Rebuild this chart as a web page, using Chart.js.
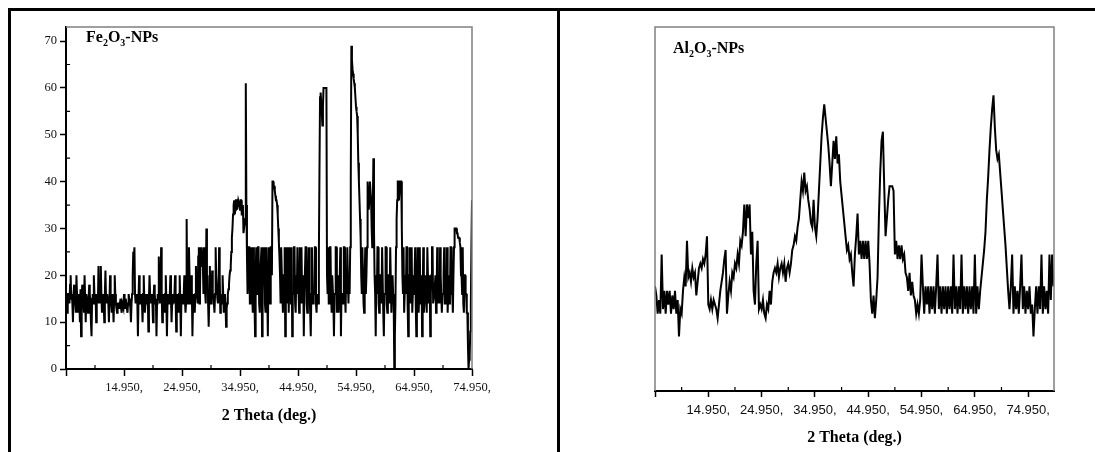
<!DOCTYPE html>
<html>
<head>
<meta charset="utf-8">
<script src="https://cdn.jsdelivr.net/npm/chart.js@4.4.1/dist/chart.umd.min.js"></script>
<style>
  html, body { margin: 0; padding: 0; background: #fff; }
  body { width: 1095px; height: 452px; position: relative; overflow: hidden; }
  .painel { position: absolute; top: 0; height: 452px; }
  #painelFe { left: 0; width: 557px; }
  #painelAl { left: 557px; width: 538px; }
  .linha { position: absolute; background: #000; }
</style>
</head>
<body>
<div class="painel" id="painelFe"><canvas id="graficoFe"></canvas></div>
<div class="painel" id="painelAl"><canvas id="graficoAl"></canvas></div>
<!-- bordas da tabela -->
<div class="linha" style="left:8px; top:8px; width:1087px; height:3px"></div>
<div class="linha" style="left:8px; top:8px; width:3px; height:444px"></div>
<div class="linha" style="left:557px; top:8px; width:3px; height:444px"></div>

<script>
// Difratogramas de raios X - passo fixo em 2θ
const inicioFe = 4.95;
const passoFe = 0.1;
const intensidadeFe = [
  16,14,12,16,16,15,14,18,20,15,16,14,10,16,18,15,14,12,20,16,12,15,16,14,10,17,7,15,18,16,14,12,20,15,10,16,16,14,12,15,18,16,14,10,7,15,16,14,20,16,
  14,16,10,15,16,14,22,16,14,15,22,16,12,15,16,14,10,16,21,15,14,16,16,14,10,15,20,16,14,12,16,14,10,15,20,16,14,13,12,14,14,13,13,14,15,13,12,14,14,13,
  16,14,13,15,14,13,12,14,16,15,14,13,10,14,16,20,25,24,26,16,14,15,16,14,7,15,20,16,14,15,16,14,10,16,20,15,12,14,16,15,14,16,8,15,20,16,14,15,16,14,
  10,15,18,16,14,15,7,14,16,15,24,16,14,15,26,16,10,14,16,15,12,16,20,15,7,14,16,15,14,16,20,15,10,14,16,15,14,16,20,15,8,14,16,15,12,16,20,15,7,15,
  16,14,14,16,20,15,12,14,32,16,16,14,26,20,14,15,20,16,7,14,16,15,12,16,22,15,16,14,24,26,14,16,26,22,26,24,22,16,26,20,16,14,30,18,20,14,9,15,22,16,
  14,16,21,15,16,14,12,16,26,20,20,15,14,16,26,20,12,15,16,14,20,16,12,15,16,14,9,13,14,16,17,18,20,21,22,25,28,30,33,35,36,33,34,36,36,34,34,36,36,35,
  34,36,36,33,33,35,29,30,30,32,61,35,24,16,20,26,26,14,14,20,26,16,12,26,20,14,7,20,26,16,16,26,26,14,12,20,20,26,7,16,26,20,26,14,12,26,20,16,7,20,
  26,16,14,26,26,20,40,40,39,39,38,37,36,36,35,33,30,27,24,20,14,26,26,16,12,20,20,26,7,16,26,14,16,26,12,20,26,16,14,26,7,16,16,26,26,14,12,20,16,26,
  20,16,12,26,16,14,26,16,14,20,7,16,16,26,26,14,12,16,20,26,16,12,7,16,26,20,14,16,16,26,26,14,12,16,16,14,25,42,58,59,57,55,52,56,60,60,60,60,60,60,
  20,16,26,14,14,26,26,16,12,20,20,14,7,16,16,26,26,12,14,20,12,16,20,26,7,16,16,14,14,26,26,16,12,20,16,26,26,14,20,16,26,40,69,66,64,63,62,61,60,58,
  56,55,54,50,44,40,36,32,28,20,16,26,26,14,12,20,26,16,20,26,40,38,34,36,40,38,36,30,26,35,45,30,20,16,7,20,16,26,26,14,12,20,20,16,14,26,26,12,7,16,
  16,26,26,14,12,20,20,16,14,26,26,12,12,20,16,14,0,7,14,26,32,36,40,40,36,38,40,40,40,30,20,16,26,12,12,20,16,26,26,14,7,16,20,26,14,16,26,12,12,20,
  16,20,26,14,7,16,20,26,12,16,26,14,16,20,7,16,26,12,14,20,20,16,12,26,26,14,16,20,7,16,20,26,26,14,14,16,16,20,12,16,26,14,16,20,14,26,20,16,12,16,
  16,20,26,14,14,16,16,26,12,16,20,14,16,26,26,16,16,12,20,26,30,30,30,30,29,29,28,28,28,27,26,20,20,16,26,14,12,20,20,16,16,12,12,5,0,2,3,8,14,26,
  36
];

const inicioAl = 4.95;
const passoAl = 0.25;
const intensidadeAl = [
  23,21,17,20,17,30,18,22,17,22,19,22,17,21,18,22,17,20,12,18,
  17,22,25,23,33,25,26,24,27,25,26,21,24,27,28,27,29,28,30,34,
  19,18,20,18,20,19,18,16,19,22,24,26,29,31,17,21,24,22,26,25,
  28,27,30,28,33,32,35,41,34,41,38,41,30,35,22,19,28,33,18,19,
  18,20,17,16,19,18,22,19,24,26,27,26,28,25,27,28,26,28,24,27,
  28,26,28,31,32,34,33,36,38,42,46,44,48,44,45,42,40,37,36,42,
  36,34,38,44,50,56,60,63,60,57,54,50,45,50,55,51,56,50,52,46,
  43,40,37,34,31,32,29,30,26,23,30,34,39,30,33,29,33,29,33,29,
  33,28,20,17,21,16,20,25,38,48,55,57,45,34,38,42,45,45,45,44,
  30,33,29,32,29,32,29,30,26,25,22,26,21,24,21,20,17,19,17,20,
  30,23,17,23,19,23,17,23,18,23,17,23,30,18,23,17,23,18,23,17,
  23,18,23,17,30,18,23,17,23,18,30,17,23,18,23,17,23,18,23,17,
  30,17,23,18,22,25,28,31,35,42,47,53,58,62,65,58,53,51,52,48,
  44,40,36,32,27,22,18,23,30,17,23,18,22,17,23,30,18,23,17,22,
  18,23,17,19,12,18,23,17,23,18,30,17,23,18,22,17,30,20,30,23
];

const ticksX = [4.95, 14.95, 24.95, 34.95, 44.95, 54.95, 64.95, 74.95];
const ticksMenoresX = [9.95, 19.95, 29.95, 39.95, 49.95, 59.95, 69.95];
const ticksYFe = [0, 10, 20, 30, 40, 50, 60, 70];
const ticksMenoresYFe = [5, 15, 25, 35, 45, 55, 65];
const rotuloFe = [['Fe', false], ['2', true], ['O', false], ['3', true], ['-NPs', false]];
const rotuloAl = [['Al', false], ['2', true], ['O', false], ['3', true], ['-NPs', false]];

Chart.defaults.font.family = '"Liberation Serif", "Times New Roman", serif';

function pontos(inicio, passo, valores) {
  return valores.map((y, i) => ({ x: inicio + i * passo, y: y }));
}

// Caixa cinza (topo e direita), ticks menores para dentro e rótulo da amostra
function criarMoldura(cfg) {
  return {
    id: 'moldura',
    afterDraw(chart) {
      const ctx = chart.ctx;
      const { left, right, top, bottom } = chart.chartArea;
      const sx = chart.scales.x, sy = chart.scales.y;
      ctx.save();
      ctx.strokeStyle = '#808080';
      ctx.lineWidth = 1.5;
      ctx.beginPath();
      if (cfg.esquerdaCinza) { ctx.moveTo(left, bottom); ctx.lineTo(left, top); }
      else ctx.moveTo(left, top);
      ctx.lineTo(right, top);
      ctx.lineTo(right, bottom);
      ctx.stroke();

      ctx.strokeStyle = '#000';
      ctx.lineWidth = 1.2;
      ctx.beginPath();
      cfg.menoresX.forEach(v => {
        const px = sx.getPixelForValue(v);
        ctx.moveTo(px, bottom); ctx.lineTo(px, bottom - 4);
      });
      (cfg.menoresY || []).forEach(v => {
        const py = sy.getPixelForValue(v);
        ctx.moveTo(left, py); ctx.lineTo(left + 4, py);
      });
      ctx.stroke();

      let x = left + cfg.rotuloX;
      const y = top + cfg.rotuloY;
      ctx.fillStyle = '#000';
      ctx.textBaseline = 'alphabetic';
      ctx.textAlign = 'left';
      cfg.rotulo.forEach(([txt, sub]) => {
        ctx.font = sub ? 'bold 10px "Liberation Serif"' : 'bold 16px "Liberation Serif"';
        ctx.fillText(txt, x, sub ? y + 4 : y);
        x += ctx.measureText(txt).width;
      });
      ctx.restore();
    }
  };
}

// Fe2O3
new Chart(document.getElementById('graficoFe'), {
  type: 'line',
  data: {
    datasets: [{
      data: pontos(inicioFe, passoFe, intensidadeFe),
      borderColor: '#000',
      borderWidth: 2,
      pointRadius: 0,
      tension: 0,
      fill: false
    }]
  },
  options: {
    responsive: true,
    maintainAspectRatio: false,
    animation: false,
    events: [],
    layout: { padding: { top: 27, right: 85, left: 0, bottom: 0 } },
    plugins: { legend: { display: false }, tooltip: { enabled: false } },
    scales: {
      x: {
        type: 'linear',
        min: 4.95,
        max: 74.95,
        afterBuildTicks: s => { s.ticks = ticksX.map(v => ({ value: v })); },
        afterFit: s => { s.height = 83; },
        ticks: {
          callback: (v, i) => i === 0 ? '' : v.toFixed(3) + ',',
          color: '#111', font: { size: 12.5 }, padding: 4,
          maxRotation: 0, autoSkip: false
        },
        grid: { drawOnChartArea: false, tickLength: 7, tickColor: '#000', tickWidth: 1.5 },
        border: { color: '#000', width: 2 },
        title: {
          display: true, text: '2 Theta (deg.)', color: '#000',
          font: { size: 16, weight: 'bold' }, padding: { top: 0, bottom: 27 }
        }
      },
      y: {
        min: 0,
        max: 73,
        afterBuildTicks: s => { s.ticks = ticksYFe.map(v => ({ value: v })); },
        afterFit: s => { s.width = 66; },
        ticks: { color: '#111', font: { size: 12.5 }, padding: 3 },
        grid: { drawOnChartArea: false, tickLength: 6, tickColor: '#000', tickWidth: 1.5 },
        border: { color: '#000', width: 2 }
      }
    }
  },
  plugins: [criarMoldura({
    menoresX: ticksMenoresX, menoresY: ticksMenoresYFe,
    rotulo: rotuloFe, rotuloX: 20, rotuloY: 14.5, esquerdaCinza: false
  })]
});

// Al2O3
new Chart(document.getElementById('graficoAl'), {
  type: 'line',
  data: {
    datasets: [{
      data: pontos(inicioAl, passoAl, intensidadeAl),
      borderColor: '#000',
      borderWidth: 2,
      pointRadius: 0,
      tension: 0,
      fill: false
    }]
  },
  options: {
    responsive: true,
    maintainAspectRatio: false,
    animation: false,
    events: [],
    layout: { padding: { top: 27, right: 41, left: 98, bottom: 0 } },
    plugins: { legend: { display: false }, tooltip: { enabled: false } },
    scales: {
      x: {
        type: 'linear',
        min: 4.95,
        max: 79.8,
        afterBuildTicks: s => { s.ticks = ticksX.map(v => ({ value: v })); },
        afterFit: s => { s.height = 61; },
        ticks: {
          callback: (v, i) => i === 0 ? '' : v.toFixed(3) + ',',
          color: '#111', font: { family: '"Liberation Sans", Arial, sans-serif', size: 13 },
          padding: 6, maxRotation: 0, autoSkip: false
        },
        grid: { drawOnChartArea: false, tickLength: 6, tickColor: '#000', tickWidth: 1.5 },
        border: { color: '#000', width: 2 },
        title: {
          display: true, text: '2 Theta (deg.)', color: '#000',
          font: { size: 16, weight: 'bold' }, padding: { top: 0, bottom: 5 }
        }
      },
      y: {
        min: 0,
        max: 80,
        afterFit: s => { s.width = 0; },
        ticks: { display: false },
        grid: { drawOnChartArea: false, drawTicks: false },
        border: { display: false }
      }
    }
  },
  plugins: [criarMoldura({
    menoresX: ticksMenoresX,
    rotulo: rotuloAl, rotuloX: 18, rotuloY: 25.5, esquerdaCinza: true
  })]
});
</script>
</body>
</html>
